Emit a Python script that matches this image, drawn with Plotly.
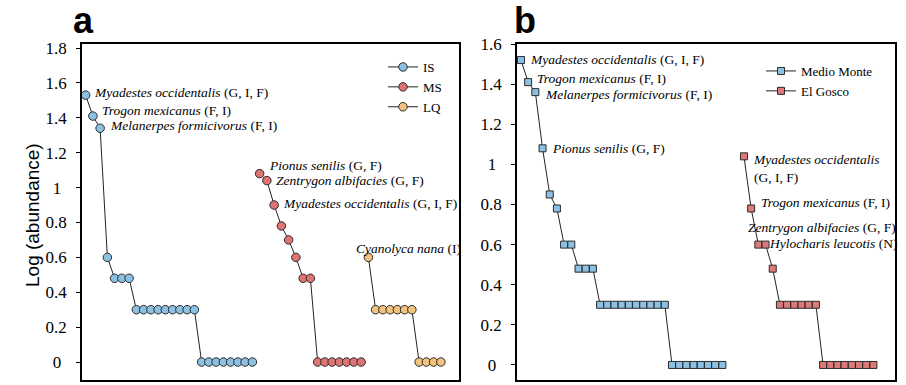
import plotly.graph_objects as go

# ---------------- data ----------------
# Panel a: rank/abundance, log10(abundance)
IS_vals = [1.53, 1.41, 1.34, 0.60, 0.48, 0.48, 0.48,
           0.30, 0.30, 0.30, 0.30, 0.30, 0.30, 0.30, 0.30, 0.30,
           0, 0, 0, 0, 0, 0, 0, 0]
MS_vals = [1.08, 1.04, 0.90, 0.78, 0.70, 0.60, 0.48, 0.48,
           0, 0, 0, 0, 0, 0, 0]
LQ_vals = [0.60, 0.30, 0.30, 0.30, 0.30, 0.30, 0.30, 0, 0, 0, 0]
IS_start, MS_start, LQ_start = 0, 24, 39

# Panel b
MM_vals = [1.52, 1.41, 1.36, 1.08, 0.85, 0.78, 0.60, 0.60, 0.48, 0.48, 0.48,
           0.30, 0.30, 0.30, 0.30, 0.30, 0.30, 0.30, 0.30, 0.30, 0.30,
           0, 0, 0, 0, 0, 0, 0, 0]
EG_vals = [1.04, 0.78, 0.60, 0.60, 0.48,
           0.30, 0.30, 0.30, 0.30, 0.30, 0.30,
           0, 0, 0, 0, 0, 0, 0, 0]
MM_start, EG_start = 0, 31

ticks_a = [0, 0.2, 0.4, 0.6, 0.8, 1.0, 1.2, 1.4, 1.6, 1.8]
ticklabels_a = ["0", "0.2", "0.4", "0.6", "0.8", "1", "1.2", "1.4", "1.6", "1.8"]
ticks_b = [0, 0.2, 0.4, 0.6, 0.8, 1.0, 1.2, 1.4, 1.6]
ticklabels_b = ["0", "0.2", "0.4", "0.6", "0.8", "1", "1.2", "1.4", "1.6"]

# species labels: (series key, point index, text)
labels = [
    ("IS", 0, "<i>Myadestes occidentalis</i> (G, I, F)"),
    ("IS", 1, "<i>Trogon mexicanus</i> (F, I)"),
    ("IS", 2, "<i>Melanerpes formicivorus</i> (F, I)"),
    ("MS", 0, "<i>Pionus senilis</i> (G, F)"),
    ("MS", 1, "<i>Zentrygon albifacies</i> (G, F)"),
    ("MS", 2, "<i>Myadestes occidentalis</i> (G, I, F)"),
    ("LQ", 0, "<i>Cyanolyca nana</i> (I)"),
    ("MM", 0, "<i>Myadestes occidentalis</i> (G, I, F)"),
    ("MM", 1, "<i>Trogon mexicanus</i> (F, I)"),
    ("MM", 2, "<i>Melanerpes formicivorus</i> (F, I)"),
    ("MM", 3, "<i>Pionus senilis</i> (G, F)"),
    ("EG", 0, "<i>Myadestes occidentalis</i><br>(G, I, F)"),
    ("EG", 1, "<i>Trogon mexicanus</i> (F, I)"),
    ("EG", 2, "<i>Zentrygon albifacies</i> (G, F)"),
    ("EG", 3, "<i>Hylocharis leucotis</i> (N)"),
]
# pixel offsets of the labels from their points (style)
label_shift = [(6, 3), (7, 6), (8, 3), (7, 8), (7, 0), (7, 2), (-14, 9),
               (7, 1), (7, 4), (8, -2), (7, 0), (7, -12), (8, 6), (-12, 17), (1, 1)]

# ---------------- figure ----------------
series = {
    "IS": dict(vals=IS_vals, start=IS_start, name="IS", color="#8cc1e3", sym="circle", size=8.5, ax="a", legend="legend"),
    "MS": dict(vals=MS_vals, start=MS_start, name="MS", color="#df7474", sym="circle", size=8.5, ax="a", legend="legend"),
    "LQ": dict(vals=LQ_vals, start=LQ_start, name="LQ", color="#f3c27e", sym="circle", size=8.5, ax="a", legend="legend"),
    "MM": dict(vals=MM_vals, start=MM_start, name="Medio Monte", color="#8cc1e3", sym="square", size=7, ax="b", legend="legend2"),
    "EG": dict(vals=EG_vals, start=EG_start, name="El Gosco", color="#df7878", sym="square", size=7, ax="b", legend="legend2"),
}

fig = go.Figure()
for key, s in series.items():
    xs = [s["start"] + i for i in range(len(s["vals"]))]
    s["x"] = xs
    fig.add_trace(go.Scatter(
        x=xs, y=s["vals"], mode="lines+markers", name=s["name"],
        line=dict(color="#222222", width=1),
        marker=dict(symbol=s["sym"], size=s["size"], color=s["color"],
                    line=dict(color="#2a2a2a", width=1)),
        xaxis="x" if s["ax"] == "a" else "x2",
        yaxis="y" if s["ax"] == "a" else "y2",
        legend=s["legend"],
    ))

W, H = 906, 385
def px_x(p):
    return p / W
def px_y(p):
    return 1 - p / H

ann_font = dict(family="Liberation Serif, Times New Roman, serif", size=13.5, color="black")
annotations = []
for (key, idx, text), (dx, dy) in zip(labels, label_shift):
    s = series[key]
    annotations.append(dict(
        x=s["x"][idx], y=s["vals"][idx],
        xref="x" if s["ax"] == "a" else "x2",
        yref="y" if s["ax"] == "a" else "y2",
        text=text, showarrow=False, xanchor="left", yanchor="middle",
        align="left", xshift=dx, yshift=dy, font=ann_font,
    ))

# panel letters and y-axis title
letter_font = dict(family="Liberation Sans, Arial, sans-serif", size=36, color="black")
annotations.append(dict(x=px_x(71), y=px_y(43), xref="paper", yref="paper", text="<b>a</b>",
                        showarrow=False, xanchor="left", yanchor="bottom", font=letter_font))
annotations.append(dict(x=px_x(512), y=px_y(43), xref="paper", yref="paper", text="<b>b</b>",
                        showarrow=False, xanchor="left", yanchor="bottom", font=letter_font))
annotations.append(dict(x=px_x(32), y=px_y(215), xref="paper", yref="paper", text="Log (abundance)",
                        showarrow=False, textangle=-90, xanchor="center", yanchor="middle",
                        font=dict(family="Liberation Sans, Arial, sans-serif", size=19, color="black")))

# centre the short tick labels under the longer ones (right-aligned labels + trailing space)
pad = "\u2008\u200a"
ticktext_a = [t + pad if len(t) == 1 else t for t in ticklabels_a]
ticktext_b = [t + pad if len(t) == 1 else t for t in ticklabels_b]

tick_font = dict(family="Liberation Serif, Times New Roman, serif", size=17, color="black")
axis_common = dict(showgrid=False, zeroline=False, showline=True, linecolor="black",
                   linewidth=1.6, mirror=True, automargin=False)
legend_font = dict(family="Liberation Serif, Times New Roman, serif", size=13, color="black")

fig.update_layout(
    width=W, height=H,
    margin=dict(l=0, r=0, t=0, b=0, pad=0, autoexpand=False),
    paper_bgcolor="white", plot_bgcolor="white",
    showlegend=True,
    xaxis=dict(domain=[px_x(82), px_x(459)], range=[-0.5, 51.5],
               showticklabels=False, ticks="", anchor="y", **axis_common),
    yaxis=dict(domain=[px_y(380), px_y(44)], range=[-0.103, 1.823], anchor="x",
               tickvals=ticks_a, ticktext=ticktext_a, ticks="outside", ticklen=4,
               tickcolor="black", tickfont=tick_font, ticklabelstandoff=6, **axis_common),
    xaxis2=dict(domain=[px_x(517), px_x(895)], range=[-0.55, 52.0],
                showticklabels=False, ticks="", anchor="y2", **axis_common),
    yaxis2=dict(domain=[px_y(380), px_y(44)], range=[-0.075, 1.6], anchor="x2",
                tickvals=ticks_b, ticktext=ticktext_b, ticks="outside", ticklen=4,
                tickcolor="black", tickfont=tick_font, ticklabelstandoff=6, **axis_common),
    legend=dict(x=px_x(383), y=px_y(52), xanchor="left", yanchor="top",
                bgcolor="rgba(0,0,0,0)", itemwidth=30, tracegroupgap=0, font=legend_font),
    legend2=dict(x=px_x(761), y=px_y(56), xanchor="left", yanchor="top",
                 bgcolor="rgba(0,0,0,0)", itemwidth=30, tracegroupgap=0, font=legend_font),
    annotations=annotations,
)

fig.write_html("out.html", config={"displayModeBar": False},
               post_script="document.body.style.margin='0';document.body.style.overflow='hidden';")
